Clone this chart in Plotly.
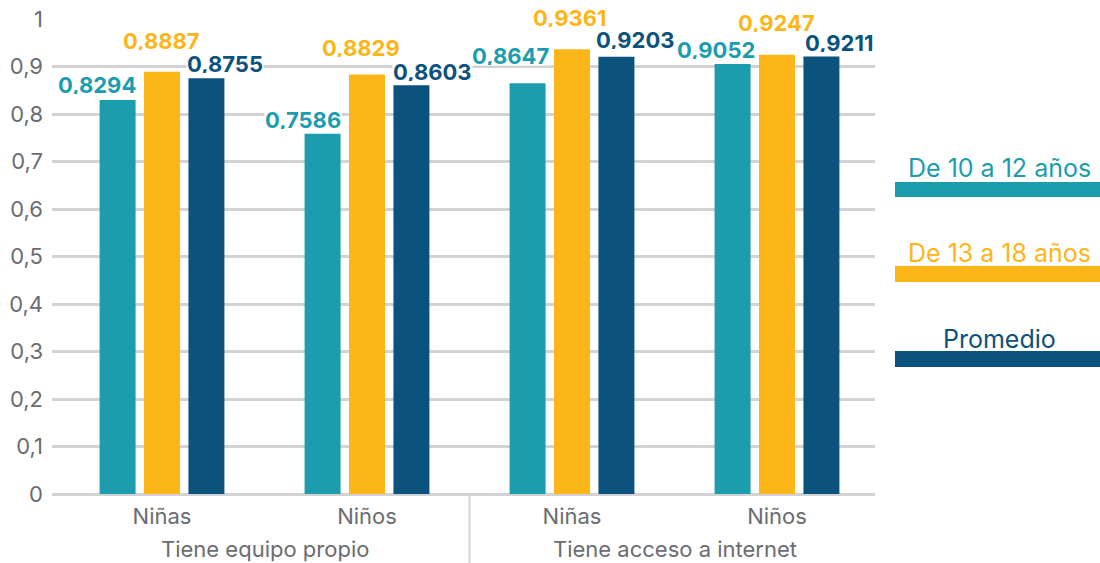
import plotly.graph_objects as go

# Data
groups = ["Tiene equipo propio", "Tiene acceso a internet"]
categories = ["Niñas", "Niños", "Niñas", "Niños"]
series_names = ["De 10 a 12 años", "De 13 a 18 años", "Promedio"]
v_10_12 = [0.8294, 0.7586, 0.8647, 0.9052]
v_13_18 = [0.8887, 0.8829, 0.9361, 0.9247]
v_prom = [0.8755, 0.8603, 0.9203, 0.9211]
y_ticks = [0, 0.1, 0.2, 0.3, 0.4, 0.5, 0.6, 0.7, 0.8, 0.9, 1]

colors = ["#1b9dae", "#fcb619", "#0b527c"]
series_values = [v_10_12, v_13_18, v_prom]

# Label placement (pixel nudges per bar)
label_dx = [[-21, -20, -17, -17], [-1, -6, -2, -1], [19, 21, 19, 18]]
label_dy = [[15, 14, 27, 14], [31, 27, 31, 32], [14, 13, 17, 13]]

FONT = "Inter"
GRID = "#d3d3d5"
TICK_GRAY = "#6b6c70"

W, H = 1100, 563
L, R, T, B = 52, 225, 19, 69
plot_w = W - L - R
plot_h = H - T - B

bargap = 0.35
bargroupgap = 0.19
slot = (1 - bargap) / 3

x_pos = list(range(len(categories)))

fig = go.Figure()
for name, vals, col in zip(series_names, series_values, colors):
    fig.add_trace(go.Bar(x=x_pos, y=vals, name=name, marker=dict(color=col, line=dict(width=0)),
                         showlegend=False, hoverinfo="y"))

annotations = []
for j, (vals, col) in enumerate(zip(series_values, colors)):
    for i, v in enumerate(vals):
        annotations.append(dict(
            x=i + (j - 1) * slot, y=v, xref="x", yref="y",
            text=f"{v:.4f}".replace(".", ","), showarrow=False,
            xanchor="center", yanchor="middle",
            xshift=label_dx[j][i], yshift=label_dy[j][i],
            font=dict(family=FONT, size=22, color=col, weight="bold"),
            bgcolor="white", borderpad=0, height=18,
        ))

# Second-level category labels
for g, label in enumerate(groups):
    annotations.append(dict(
        x=2 * g + 0.5, y=0, xref="x", yref="paper", text=label, showarrow=False,
        xanchor="center", yanchor="middle", yshift=-(549 - (H - B)),
        font=dict(family=FONT, size=22, color=TICK_GRAY),
    ))

# Legend built from text and colour strips on the right
legend_text_y = [168, 253, 339]
legend_bar_y = [(182, 197), (266, 282), (351, 367)]
shapes = []
for k, (name, col) in enumerate(zip(series_names, colors)):
    annotations.append(dict(
        x=(999 - L) / plot_w, y=(H - B - legend_text_y[k]) / plot_h, xref="paper", yref="paper",
        text=name, showarrow=False, xanchor="center", yanchor="middle",
        font=dict(family=FONT, size=25, color=col),
    ))
    y0, y1 = legend_bar_y[k]
    shapes.append(dict(
        type="rect", xref="paper", yref="paper",
        x0=(895 - L) / plot_w, x1=(1100 - L) / plot_w,
        y0=(H - B - y1) / plot_h, y1=(H - B - y0) / plot_h,
        fillcolor=col, line=dict(width=0), layer="above",
    ))

# Divider between the two groups, from the baseline to the bottom edge
shapes.append(dict(
    type="line", xref="x", yref="paper", x0=1.5, x1=1.5,
    y0=0, y1=-B / plot_h,
    line=dict(color=GRID, width=2),
))

x_left = -(162 - L) / 205
x_right = (L + plot_w - 162) / 205

fig.update_layout(
    width=W, height=H,
    margin=dict(l=L, r=R, t=T, b=B, pad=0, autoexpand=False),
    plot_bgcolor="white", paper_bgcolor="white",
    barmode="group", bargap=bargap, bargroupgap=bargroupgap,
    separators=",.",
    font=dict(family=FONT, color=TICK_GRAY),
    annotations=annotations, shapes=shapes,
    xaxis=dict(
        range=[x_left, x_right], tickvals=x_pos, ticktext=categories,
        showgrid=False, zeroline=False, showline=False, automargin=False,
        tickfont=dict(family=FONT, size=22, color=TICK_GRAY),
        ticks="", ticklabelstandoff=7,
    ),
    yaxis=dict(
        range=[0, 1], tickvals=y_ticks, automargin=False,
        showgrid=True, gridcolor=GRID, gridwidth=2.5,
        zeroline=True, zerolinecolor=GRID, zerolinewidth=2.5,
        showline=False, ticks="", ticklabelstandoff=8,
        tickfont=dict(family=FONT, size=22, color=TICK_GRAY),
    ),
)

fig.write_html("out.html")
